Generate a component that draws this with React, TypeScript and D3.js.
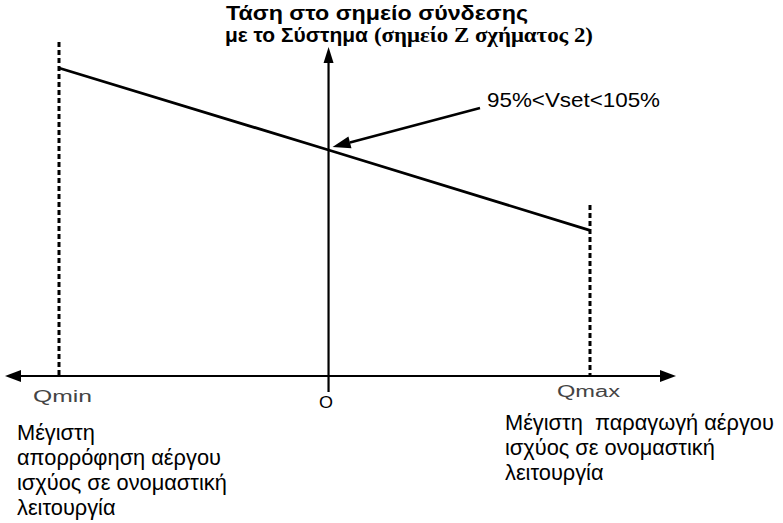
import React from "react";
import * as d3 from "d3";

// Reactive-power operating points and the connection-point voltage (pu)
const qLabels = ["Qmin", "O", "Qmax"];
const qValues = [-1.0, 0, 0.97];
const voltage = [1.05, 1.0, 0.951];

const titleLine1 = "Τάση στο σημείο σύνδεσης";
const titleLine2Sans = "με το Σύστημα";
const titleLine2Serif = "(σημείο Ζ σχήματος 2)";
const setpointLabel = "95%<Vset<105%";
const leftNote = ["Μέγιστη", "απορρόφηση αέργου", "ισχύος σε ονομαστική", "λειτουργία"];
const rightNote = ["Μέγιστη  παραγωγή αέργου", "ισχύος σε ονομαστική", "λειτουργία"];

const W = 783;
const H = 523;

export default function App() {
  const x = d3.scaleLinear().domain([qValues[0], qValues[2]]).range([59, 590]);
  const y = d3.scaleLinear().domain([1.0, 1.05]).range([150, 68]);

  const x0 = x(0);
  const axisY = 376;

  const pts: [number, number][] = qValues.map((q, i) => [x(q), y(voltage[i])]);
  const linePath = d3.line()(pts) || "";

  const sans = "Arial, 'Liberation Sans', sans-serif";
  const serif = "'Times New Roman', 'Liberation Serif', serif";

  // annotation arrow towards the setpoint
  const tip: [number, number] = [x0 + 4, y(1.0) - 3];
  const tail: [number, number] = [480, 108];
  const ang = Math.atan2(tip[1] - tail[1], tip[0] - tail[0]);
  const ah = 18;
  const aw = 6;
  const base: [number, number] = [tip[0] - ah * Math.cos(ang), tip[1] - ah * Math.sin(ang)];
  const headPts = [
    tip,
    [base[0] + aw * Math.sin(ang), base[1] - aw * Math.cos(ang)],
    [base[0] - aw * Math.sin(ang), base[1] + aw * Math.cos(ang)],
  ];

  return (
    <svg
      width={W}
      height={H}
      style={{ position: "absolute", left: 0, top: 0, background: "#fff" }}
    >
      {/* horizontal Q axis with arrowheads on both ends */}
      <line x1={18} y1={axisY} x2={664} y2={axisY} stroke="#000" strokeWidth={2.2} />
      <polygon points={`5,${axisY} 21,${axisY - 6} 21,${axisY + 6}`} fill="#000" />
      <polygon points={`676,${axisY} 660,${axisY - 6} 660,${axisY + 6}`} fill="#000" />

      {/* vertical voltage axis */}
      <line x1={x0} y1={60} x2={x0} y2={392} stroke="#000" strokeWidth={2.2} />
      <polygon points={`${x0},47 ${x0 - 5},63 ${x0 + 5},63`} fill="#000" />

      {/* Qmin / Qmax limits */}
      <line x1={x(qValues[0])} y1={42} x2={x(qValues[0])} y2={axisY} stroke="#000" strokeWidth={3} strokeDasharray="5,3" />
      <line x1={x(qValues[2])} y1={205} x2={x(qValues[2])} y2={axisY} stroke="#000" strokeWidth={3} strokeDasharray="5,3" />

      {/* voltage characteristic */}
      <path d={linePath} fill="none" stroke="#000" strokeWidth={2.8} />

      {/* setpoint annotation */}
      <line x1={tail[0]} y1={tail[1]} x2={base[0]} y2={base[1]} stroke="#000" strokeWidth={2.6} />
      <polygon points={headPts.map((p) => p.join(",")).join(" ")} fill="#000" />
      <text x={487} y={107} fontFamily={sans} fontSize={21} textLength={173} lengthAdjust="spacingAndGlyphs">
        {setpointLabel}
      </text>

      {/* title */}
      <text x={226} y={20} fontFamily={sans} fontSize={20} fontWeight="bold" textLength={302} lengthAdjust="spacingAndGlyphs">
        {titleLine1}
      </text>
      <text x={225} y={42} fontFamily={sans} fontSize={20} fontWeight="bold" textLength={143} lengthAdjust="spacingAndGlyphs">
        {titleLine2Sans}
      </text>
      <text x={374} y={42} fontFamily={serif} fontSize={20} fontWeight="bold" textLength={219} lengthAdjust="spacingAndGlyphs">
        {titleLine2Serif}
      </text>

      {/* Q labels */}
      <text x={33} y={402} fontFamily={sans} fontSize={16} fill="#444" textLength={59} lengthAdjust="spacingAndGlyphs">
        {qLabels[0]}
      </text>
      <text x={319} y={408} fontFamily={sans} fontSize={16} fill="#000" textLength={14} lengthAdjust="spacingAndGlyphs">
        {qLabels[1]}
      </text>
      <text x={557} y={397} fontFamily={sans} fontSize={16} fill="#444" textLength={63} lengthAdjust="spacingAndGlyphs">
        {qLabels[2]}
      </text>

      {/* notes under the axis */}
      {leftNote.map((t, i) => (
        <text key={"l" + i} x={17} y={440 + i * 25} fontFamily={sans} fontSize={21.8}>
          {t}
        </text>
      ))}
      {rightNote.map((t, i) => (
        <text key={"r" + i} x={505} y={430 + i * 25} fontFamily={sans} fontSize={21.8} style={{ whiteSpace: "pre" }}>
          {t}
        </text>
      ))}
    </svg>
  );
}
